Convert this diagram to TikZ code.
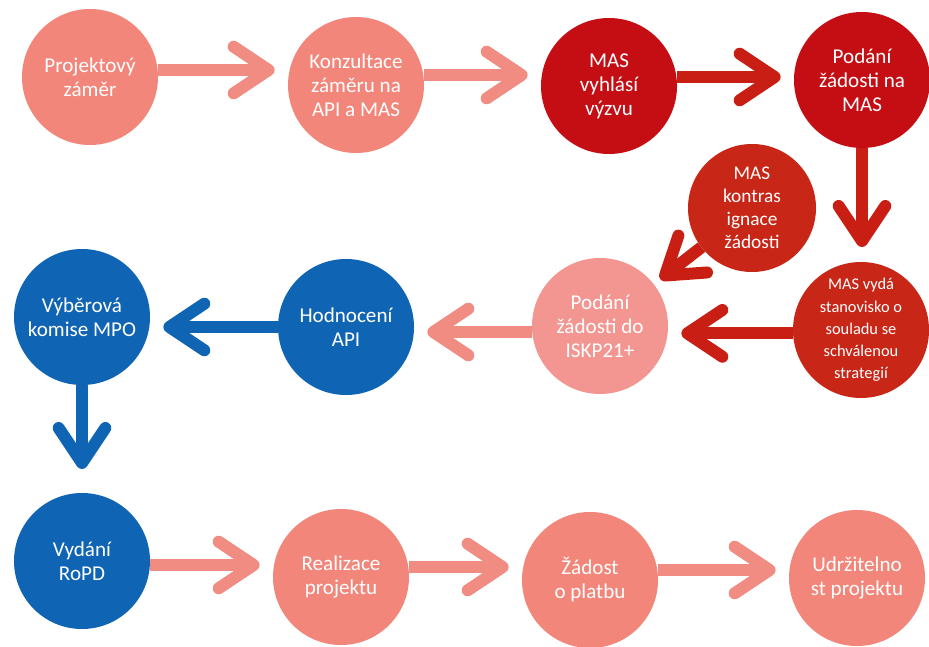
\documentclass[tikz,border=0pt]{standalone}
\usepackage{fontspec}
\setmainfont{Carlito}
\usetikzlibrary{arrows.meta}

\definecolor{salmon}{RGB}{242,134,122}
\definecolor{lightsalmon}{RGB}{243,150,145}
\definecolor{salmonline}{RGB}{241,140,130}
\definecolor{darkred}{RGB}{196,14,20}
\definecolor{brickred}{RGB}{200,38,22}
\definecolor{redline}{RGB}{200,30,20}
\definecolor{steelblue}{RGB}{16,100,180}

\begin{document}
\begin{tikzpicture}[x=0.03cm, y=-0.03cm,
    bubble/.style={circle, fill=#1, text=white, minimum size=4.08cm, inner sep=0pt,
        outer sep=0pt, align=center, font=\fontsize{18}{20.5}\selectfont},
    flow/.style={draw=#1, line width=0.36cm,
        -{Straight Barb[length=1.05cm, width=1.4cm, round]}, shorten >=0.4cm}
]

    \useasboundingbox[fill=white] (0,0) rectangle (929,646);

    %% First row

    % Circles
    \node[bubble=salmon] (zamer) at (90,77) {Projektový\\záměr};
    \node[bubble=salmon] (konzultace) at (356,85) {Konzultace\\záměru na\\API a MAS};
    \node[bubble=darkred] (vyzva) at (609,86) {MAS\\vyhlásí\\výzvu};
    \node[bubble=darkred] (zadostmas) at (862,80) {Podání\\žádosti na\\MAS};

    % Arrows
    \draw[flow=salmonline] ([yshift=0.21cm]zamer.east) -- ([yshift=0.21cm]zamer.east -| konzultace.west);
    \draw[flow=salmonline] ([yshift=0.3cm]konzultace.east) -- ([yshift=0.3cm]konzultace.east -| vyzva.west);
    \draw[flow=redline] ([yshift=0.27cm]vyzva.east) -- ([yshift=0.27cm]vyzva.east -| zadostmas.west);

    %% Second row

    % Circles
    \node[bubble=brickred, minimum size=3.84cm, font=\fontsize{16.5}{19.6}\selectfont] (kontra) at (752,208) {MAS\\kontras\\ignace\\žádosti};
    \node[bubble=brickred, font=\fontsize{14}{19}\selectfont] (stanovisko) at (861,330) {MAS vydá\\stanovisko o\\souladu se\\schválenou\\strategií};
    \node[bubble=lightsalmon] (iskp) at (600,326) {Podání\\žádosti do\\ISKP21+};
    \node[bubble=steelblue] (hodnoceni) at (346,327) {Hodnocení\\API};
    \node[bubble=steelblue] (komise) at (82,317) {Výběrová\\komise MPO};

    % Arrows
    \draw[flow=redline, shorten >=0.45cm] (zadostmas.south) -- (zadostmas.south |- stanovisko.north);
    \draw[flow=redline] ([yshift=-0.1cm]stanovisko.west) -- ([yshift=-0.1cm]stanovisko.west -| iskp.east);
    \draw[flow=redline, shorten >=0.25cm] (kontra) -- (iskp);
    \draw[flow=salmonline] ([yshift=-0.18cm]iskp.west) -- ([yshift=-0.18cm]iskp.west -| hodnoceni.east);
    \draw[flow=steelblue] (hodnoceni.west) -- (hodnoceni.west -| komise.east);

    %% Third row

    % Circles
    \node[bubble=steelblue] (ropd) at (82,561) {Vydání\\RoPD};
    \node[bubble=salmon] (realizace) at (341,577) {Realizace\\projektu};
    \node[bubble=salmon] (platba) at (590,580) {Žádost\\o platbu};
    \node[bubble=salmon] (udrzitelnost) at (857,578) {Udržitelno\\st projektu};

    % Arrows
    \draw[flow=steelblue, shorten >=0.72cm] (komise.south) -- (komise.south |- ropd.north);
    \draw[flow=salmonline] ([yshift=-0.12cm]ropd.east) -- ([yshift=-0.12cm]ropd.east -| realizace.west);
    \draw[flow=salmonline] ([yshift=0.3cm]realizace.east) -- ([yshift=0.3cm]realizace.east -| platba.west);
    \draw[flow=salmonline] ([yshift=0.3cm]platba.east) -- ([yshift=0.3cm]platba.east -| udrzitelnost.west);

\end{tikzpicture}
\end{document}
